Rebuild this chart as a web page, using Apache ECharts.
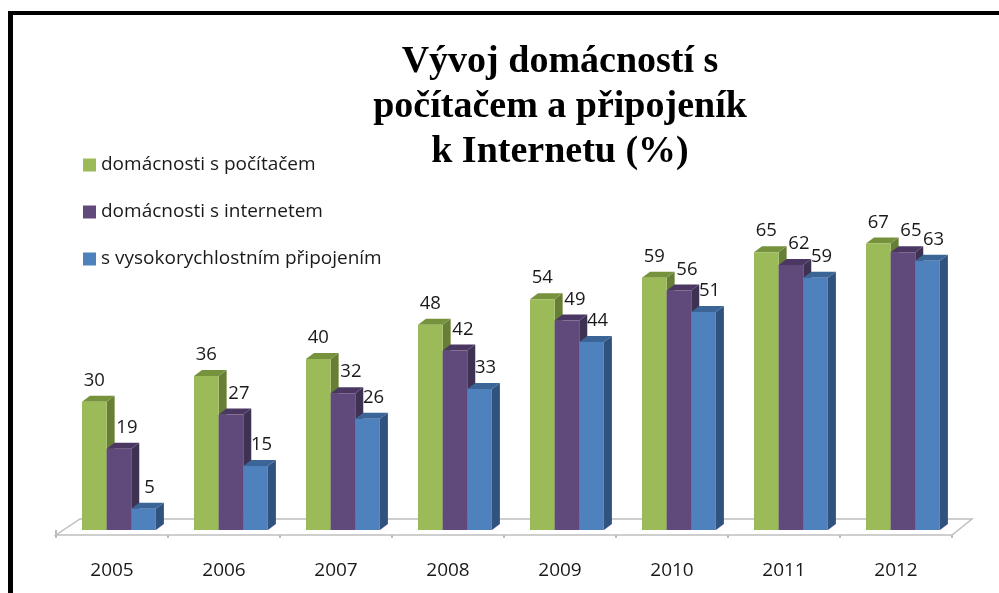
<!DOCTYPE html>
<html style="height: 100%">
<head>
    <meta charset="utf-8">
    <script src="https://cdn.jsdelivr.net/npm/echarts@6/dist/echarts.min.js"></script>
</head>
<body style="height: 100%; margin: 0; background: #fff">
    <div id="main" style="width: 999px; height: 593px;"></div>
    <!-- black frame (top + left) like the original slide -->
    <div style="position:absolute; left:8px; top:11px; width:991px; height:582px; box-sizing:border-box;
                border-top:4px solid #000; border-left:5px solid #000; pointer-events:none;"></div>
    <script type="text/javascript">
    var years = ['2005', '2006', '2007', '2008', '2009', '2010', '2011', '2012'];
    var pocitac = [30, 36, 40, 48, 54, 59, 65, 67];
    var internet = [19, 27, 32, 42, 49, 56, 62, 65];
    var vysokorychlostni = [5, 15, 26, 33, 44, 51, 59, 63];

    var seriesNames = ['domácnosti s počítačem', 'domácnosti s internetem', 's vysokorychlostním připojením'];

    var myChart = echarts.init(document.getElementById('main'));

    // 3D-looking bar: front face, side face, top face + value label
    function barRenderer(idx, face, side, top, labelShift) {
        return function (params, api) {
            var cat = api.value(0), val = api.value(1);
            var base = api.coord([cat, 0]);
            var head = api.coord([cat, val]);
            var band = api.size([1, 0])[0];
            var w = band * 0.22;
            var x = base[0] - band / 2 + band * 0.232 + idx * w;
            var y0 = base[1], y1 = head[1];
            var dx = 8, dy = 6;
            return {
                type: 'group',
                children: [
                    { type: 'polygon', shape: { points: [[x + w, y1], [x + w + dx, y1 - dy], [x + w + dx, y0 - dy], [x + w, y0]] }, style: { fill: side } },
                    { type: 'polygon', shape: { points: [[x, y1], [x + dx, y1 - dy], [x + w + dx, y1 - dy], [x + w, y1]] }, style: { fill: top } },
                    { type: 'rect', shape: { x: x, y: y1, width: w, height: y0 - y1 }, style: { fill: face } },
                    { type: 'text', x: x + w / 2 + labelShift, y: y1 - 21, style: { text: String(val), align: 'center', verticalAlign: 'middle', font: '18.5px "Open Sans"', fill: '#1a1a1a' } }
                ]
            };
        };
    }

    function toData(arr) {
        return arr.map(function (v, i) { return [i, v]; });
    }

    var option = {
        backgroundColor: '#fff',
        animation: false,
        title: {
            text: 'Vývoj domácností s\npočítačem a připojeník\nk Internetu (%)',
            left: 555,
            top: 35,
            textAlign: 'center',
            textStyle: {
                fontFamily: 'Liberation Serif',
                fontWeight: 'bold',
                fontSize: 38,
                lineHeight: 45,
                color: '#000'
            }
        },
        legend: {
            data: seriesNames,
            orient: 'vertical',
            left: 78,
            top: 149,
            icon: 'rect',
            itemWidth: 13,
            itemHeight: 13,
            itemGap: 25,
            textStyle: { fontFamily: 'Open Sans', fontSize: 19, lineHeight: 22, color: '#1a1a1a' }
        },
        grid: { left: 56, right: 47, top: 188, bottom: 63 },
        xAxis: {
            type: 'category',
            data: years,
            offset: 5,
            axisLine: { show: false },
            axisTick: { show: true, length: 8, lineStyle: { color: '#a6a6a6', width: 1.5 } },
            axisLabel: { margin: 26, fontFamily: 'Open Sans', fontSize: 19, lineHeight: 20, color: '#1a1a1a' }
        },
        yAxis: { type: 'value', min: 0, max: 80, show: false },
        series: [
            {
                // floor of the 3D plot
                name: 'floor',
                type: 'custom',
                silent: true,
                z: 1,
                data: [[0, 0]],
                renderItem: function (params, api) {
                    var cs = params.coordSys;
                    var L = cs.x, R = cs.x + cs.width, B = cs.y + cs.height;
                    return {
                        type: 'polygon',
                        shape: { points: [[L, B + 5], [R, B + 5], [R + 20, B - 11], [L + 24, B - 11]] },
                        style: { fill: '#fff', stroke: '#bfbfbf', lineWidth: 1.5 }
                    };
                }
            },
            {
                name: seriesNames[0], type: 'custom', z: 2,
                itemStyle: { color: '#9bbb59' },
                data: toData(pocitac),
                renderItem: barRenderer(0, '#9bbb59', '#677f35', '#76923c', 0)
            },
            {
                name: seriesNames[1], type: 'custom', z: 2,
                itemStyle: { color: '#604a7b' },
                data: toData(internet),
                renderItem: barRenderer(1, '#604a7b', '#3f3151', '#4a3863', 8)
            },
            {
                name: seriesNames[2], type: 'custom', z: 2,
                itemStyle: { color: '#4f81bd' },
                data: toData(vysokorychlostni),
                renderItem: barRenderer(2, '#4f81bd', '#30527f', '#3b6596', 6)
            }
        ]
    };
    myChart.setOption(option);
    </script>
</body>
</html>
